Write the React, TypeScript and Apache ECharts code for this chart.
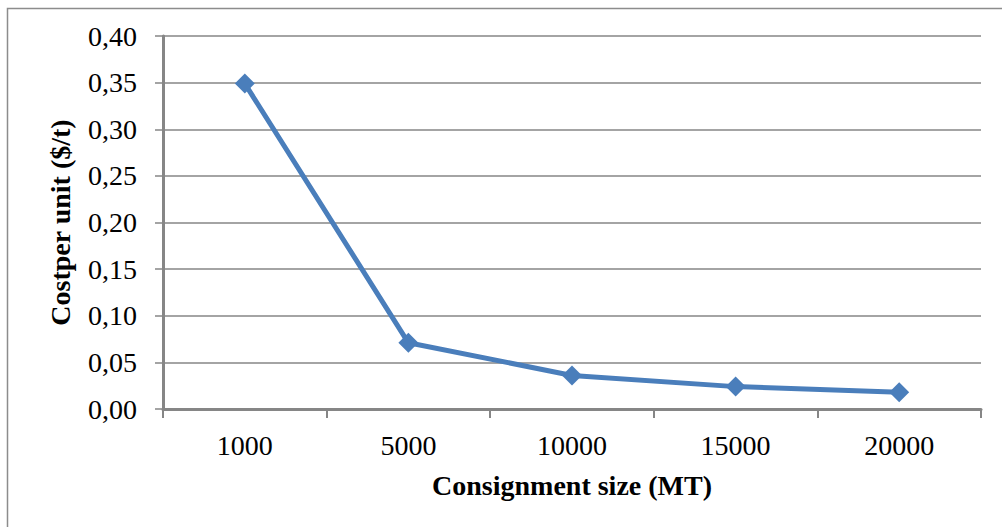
import React, { useEffect, useRef } from "react";
import * as echarts from "echarts";

const categories = ["1000", "5000", "10000", "15000", "20000"];
const costPerUnit = [0.349, 0.071, 0.036, 0.024, 0.018];
const yMin = 0;
const yMax = 0.4;
const yInterval = 0.05;

export default function App() {
  const ref = useRef<HTMLDivElement>(null);
  useEffect(() => {
    const chart = echarts.init(ref.current!, null, { renderer: "svg" });
    const font = "'Liberation Serif', 'Times New Roman', serif";
    chart.setOption({
      animation: false,
      backgroundColor: "#ffffff",
      graphic: [
        {
          type: "rect",
          shape: { x: 7.5, y: 8.5, width: 1010, height: 540 },
          style: { fill: "none", stroke: "#8c8c8c", lineWidth: 1.5 },
          silent: true,
        },
      ],
      grid: { left: 163, right: 21, top: 36, bottom: 118 },
      xAxis: {
        type: "category",
        data: categories,
        boundaryGap: true,
        name: "Consignment size (MT)",
        nameLocation: "middle",
        nameGap: 62,
        nameTextStyle: { fontFamily: font, fontSize: 28, fontWeight: "bold", color: "#000" },
        axisLine: { lineStyle: { color: "#868686", width: 3 } },
        axisTick: { show: true, length: 9, lineStyle: { color: "#868686", width: 2 } },
        axisLabel: { fontFamily: font, fontSize: 28, color: "#000", margin: 22 },
      },
      yAxis: {
        type: "value",
        min: yMin,
        max: yMax,
        interval: yInterval,
        name: "Costper unit ($/t)",
        nameLocation: "middle",
        nameGap: 89,
        nameRotate: 90,
        nameTextStyle: { fontFamily: font, fontSize: 28, fontWeight: "bold", color: "#000" },
        axisLine: { show: true, lineStyle: { color: "#868686", width: 3 } },
        axisTick: { show: true, length: 8, lineStyle: { color: "#868686", width: 1.5 } },
        axisLabel: {
          fontFamily: font,
          fontSize: 28,
          color: "#000",
          margin: 26,
          formatter: (v: number) => v.toFixed(2).replace(".", ","),
        },
        splitLine: { show: true, lineStyle: { color: "#868686", width: 1.5 } },
      },
      series: [
        {
          type: "line",
          data: costPerUnit,
          symbol: "diamond",
          symbolSize: 20,
          lineStyle: { color: "#4a7ebb", width: 5 },
          itemStyle: { color: "#4a7ebb" },
        },
      ],
    });
    return () => chart.dispose();
  }, []);
  return <div ref={ref} style={{ width: 1002, height: 527, position: "absolute", left: 0, top: 0 }} />;
}
